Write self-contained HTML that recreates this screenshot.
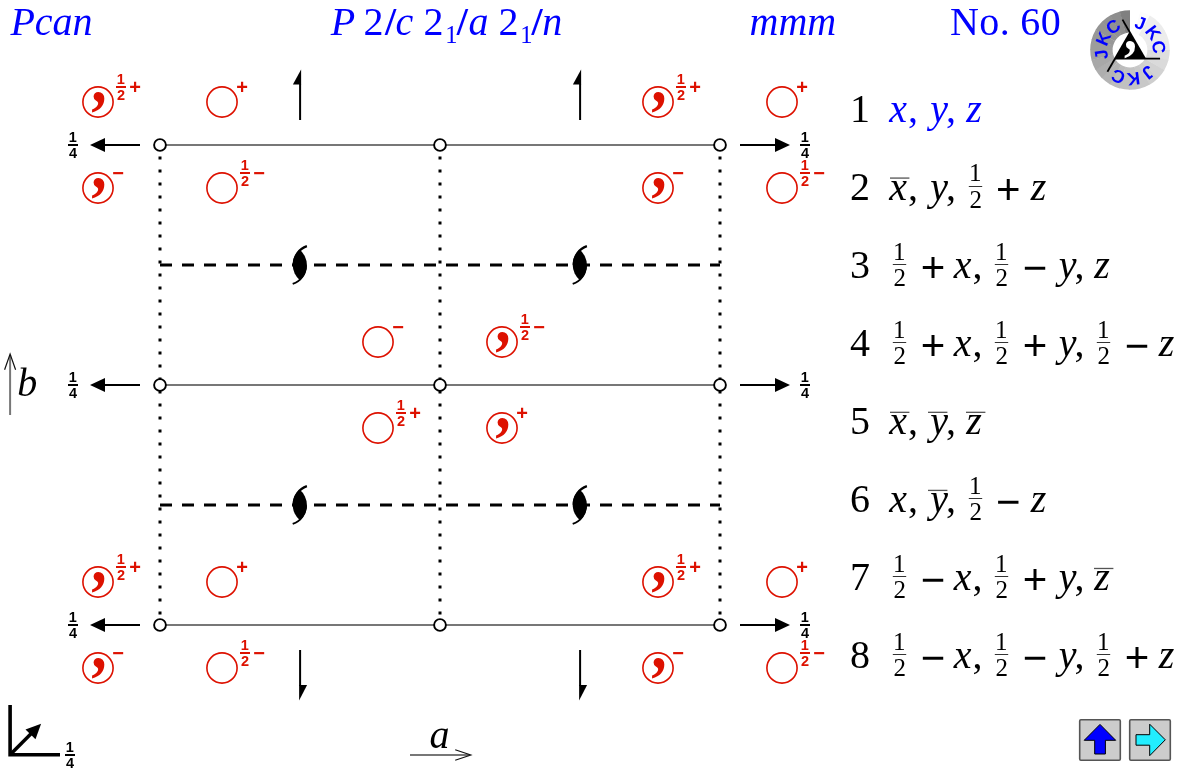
<!DOCTYPE html>
<html lang="en"><head><meta charset="utf-8"><title>Pcan No. 60</title>
<style>
html,body{margin:0;padding:0;background:#fff;}
body{width:1180px;height:770px;overflow:hidden;position:relative;}
svg{position:absolute;left:0;top:0;display:block;will-change:transform;}
text{white-space:pre;}
.si{font-family:"Liberation Serif", serif;font-style:italic;}
.sr{font-family:"Liberation Serif", serif;font-style:normal;}
.sb{font-family:"Liberation Sans", sans-serif;font-weight:bold;}
.sn{font-family:"Liberation Sans", sans-serif;}
</style></head><body>
<svg width="1180" height="770" viewBox="0 0 1180 770">
<g fill="#0000ff" font-size="40">
<text class="si" x="10.41" y="35">Pcan</text>
<text class="si" x="330.81" y="35">P</text>
<text class="sr" x="363.44" y="35">2</text>
<text class="sr" x="384.89" y="35" font-weight="bold">/</text>
<text class="si" x="395.47" y="35">c</text>
<text class="sr" x="423.54" y="35">2</text>
<text class="sr" x="445.25" y="43" font-size="24.5">1</text>
<text class="sr" x="456.69" y="35" font-weight="bold">/</text>
<text class="si" x="468.61" y="35">a</text>
<text class="sr" x="498.54" y="35">2</text>
<text class="sr" x="520.15" y="43" font-size="24.5">1</text>
<text class="sr" x="531.59" y="35" font-weight="bold">/</text>
<text class="si" x="542.27" y="35">n</text>
<text class="si" x="749.55" y="35">mmm</text>
<text class="sr" x="950.05" y="35" letter-spacing="0.35">No. 60</text>
</g>
<line x1="160" y1="145" x2="720" y2="145" stroke="#777" stroke-width="2"/>
<line x1="160" y1="385" x2="720" y2="385" stroke="#777" stroke-width="2"/>
<line x1="160" y1="625" x2="720" y2="625" stroke="#777" stroke-width="2"/>
<line x1="160" y1="156.5" x2="160" y2="616" stroke="#000" stroke-width="3" stroke-dasharray="3 10"/>
<line x1="440" y1="156.5" x2="440" y2="616" stroke="#000" stroke-width="3" stroke-dasharray="3 10"/>
<line x1="720" y1="156.5" x2="720" y2="616" stroke="#000" stroke-width="3" stroke-dasharray="3 10"/>
<line x1="160" y1="265" x2="720" y2="265" stroke="#000" stroke-width="3" stroke-dasharray="12 10"/>
<line x1="160" y1="505" x2="720" y2="505" stroke="#000" stroke-width="3" stroke-dasharray="12 10"/>
<circle cx="160" cy="145" r="5.9" fill="#fff" stroke="#000" stroke-width="1.9"/>
<circle cx="160" cy="385" r="5.9" fill="#fff" stroke="#000" stroke-width="1.9"/>
<circle cx="160" cy="625" r="5.9" fill="#fff" stroke="#000" stroke-width="1.9"/>
<circle cx="440" cy="145" r="5.9" fill="#fff" stroke="#000" stroke-width="1.9"/>
<circle cx="440" cy="385" r="5.9" fill="#fff" stroke="#000" stroke-width="1.9"/>
<circle cx="440" cy="625" r="5.9" fill="#fff" stroke="#000" stroke-width="1.9"/>
<circle cx="720" cy="145" r="5.9" fill="#fff" stroke="#000" stroke-width="1.9"/>
<circle cx="720" cy="385" r="5.9" fill="#fff" stroke="#000" stroke-width="1.9"/>
<circle cx="720" cy="625" r="5.9" fill="#fff" stroke="#000" stroke-width="1.9"/>
<line x1="140" y1="145" x2="103" y2="145" stroke="#000" stroke-width="2"/>
<polygon points="90,145 105,138 105,152" fill="#000"/>
<g fill="#000" font-size="14.5" text-anchor="middle" class="sb">
<text x="72.7" y="142">1</text>
<text x="73.1" y="157.9">4</text>
<rect x="68" y="144" width="10" height="2"/>
</g>
<line x1="740" y1="145" x2="777" y2="145" stroke="#000" stroke-width="2"/>
<polygon points="790,145 775,138 775,152" fill="#000"/>
<g fill="#000" font-size="14.5" text-anchor="middle" class="sb">
<text x="804.7" y="142">1</text>
<text x="805.1" y="157.9">4</text>
<rect x="800" y="144" width="10" height="2"/>
</g>
<line x1="140" y1="385" x2="103" y2="385" stroke="#000" stroke-width="2"/>
<polygon points="90,385 105,378 105,392" fill="#000"/>
<g fill="#000" font-size="14.5" text-anchor="middle" class="sb">
<text x="72.7" y="382">1</text>
<text x="73.1" y="397.9">4</text>
<rect x="68" y="384" width="10" height="2"/>
</g>
<line x1="740" y1="385" x2="777" y2="385" stroke="#000" stroke-width="2"/>
<polygon points="790,385 775,378 775,392" fill="#000"/>
<g fill="#000" font-size="14.5" text-anchor="middle" class="sb">
<text x="804.7" y="382">1</text>
<text x="805.1" y="397.9">4</text>
<rect x="800" y="384" width="10" height="2"/>
</g>
<line x1="140" y1="625" x2="103" y2="625" stroke="#000" stroke-width="2"/>
<polygon points="90,625 105,618 105,632" fill="#000"/>
<g fill="#000" font-size="14.5" text-anchor="middle" class="sb">
<text x="72.7" y="622">1</text>
<text x="73.1" y="637.9">4</text>
<rect x="68" y="624" width="10" height="2"/>
</g>
<line x1="740" y1="625" x2="777" y2="625" stroke="#000" stroke-width="2"/>
<polygon points="790,625 775,618 775,632" fill="#000"/>
<g fill="#000" font-size="14.5" text-anchor="middle" class="sb">
<text x="804.7" y="622">1</text>
<text x="805.1" y="637.9">4</text>
<rect x="800" y="624" width="10" height="2"/>
</g>
<rect x="299.1" y="84" width="2" height="36" fill="#000"/>
<polygon points="301.1,69.6 292.9,84.5 301.1,84.5" fill="#000"/>
<rect x="299.1" y="650" width="2" height="36" fill="#000"/>
<polygon points="299.1,700.4 307.1,685 299.1,685" fill="#000"/>
<rect x="579.1" y="84" width="2" height="36" fill="#000"/>
<polygon points="581.1,69.6 572.9,84.5 581.1,84.5" fill="#000"/>
<rect x="579.1" y="650" width="2" height="36" fill="#000"/>
<polygon points="579.1,700.4 587.1,685 579.1,685" fill="#000"/>
<g transform="translate(299.8,265)">
<path d="M-0.23,-15.42 A20.3,20.3 0 0 0 0.23,15.42 A20.3,20.3 0 0 0 -0.23,-15.42 Z" fill="#000"/>
<path d="M7.1,-18.9 A19.3,19.3 0 0 0 -6.1,-0.2" fill="none" stroke="#000" stroke-width="2.2"/>
<path d="M-7.1,18.9 A19.3,19.3 0 0 0 6.1,0.2" fill="none" stroke="#000" stroke-width="2"/>
</g>
<g transform="translate(299.8,505)">
<path d="M-0.23,-15.42 A20.3,20.3 0 0 0 0.23,15.42 A20.3,20.3 0 0 0 -0.23,-15.42 Z" fill="#000"/>
<path d="M7.1,-18.9 A19.3,19.3 0 0 0 -6.1,-0.2" fill="none" stroke="#000" stroke-width="2.2"/>
<path d="M-7.1,18.9 A19.3,19.3 0 0 0 6.1,0.2" fill="none" stroke="#000" stroke-width="2"/>
</g>
<g transform="translate(579.8,265)">
<path d="M-0.23,-15.42 A20.3,20.3 0 0 0 0.23,15.42 A20.3,20.3 0 0 0 -0.23,-15.42 Z" fill="#000"/>
<path d="M7.1,-18.9 A19.3,19.3 0 0 0 -6.1,-0.2" fill="none" stroke="#000" stroke-width="2.2"/>
<path d="M-7.1,18.9 A19.3,19.3 0 0 0 6.1,0.2" fill="none" stroke="#000" stroke-width="2"/>
</g>
<g transform="translate(579.8,505)">
<path d="M-0.23,-15.42 A20.3,20.3 0 0 0 0.23,15.42 A20.3,20.3 0 0 0 -0.23,-15.42 Z" fill="#000"/>
<path d="M7.1,-18.9 A19.3,19.3 0 0 0 -6.1,-0.2" fill="none" stroke="#000" stroke-width="2.2"/>
<path d="M-7.1,18.9 A19.3,19.3 0 0 0 6.1,0.2" fill="none" stroke="#000" stroke-width="2"/>
</g>
<circle cx="98" cy="102" r="15.1" fill="none" stroke="#dd1100" stroke-width="1.6"/>
<text class="sr" font-weight="bold" transform="translate(91.19,101.75) scale(0.92,1)" font-size="67" fill="#dd1100">,</text>
<g fill="#dd1100" font-size="14.5" text-anchor="middle" class="sb">
<text x="120.7" y="84">1</text>
<text x="121.1" y="99.9">2</text>
<rect x="116" y="86" width="10" height="2"/>
</g>
<text class="sb" x="135" y="93.65" font-size="20" fill="#dd1100" text-anchor="middle">+</text>
<circle cx="222" cy="102" r="15.1" fill="none" stroke="#dd1100" stroke-width="1.6"/>
<text class="sb" x="242.2" y="93.65" font-size="20" fill="#dd1100" text-anchor="middle">+</text>
<circle cx="98" cy="188" r="15.1" fill="none" stroke="#dd1100" stroke-width="1.6"/>
<text class="sr" font-weight="bold" transform="translate(91.19,187.75) scale(0.92,1)" font-size="67" fill="#dd1100">,</text>
<text class="sb" x="118.2" y="179.65" font-size="20" fill="#dd1100" text-anchor="middle">−</text>
<circle cx="222" cy="188" r="15.1" fill="none" stroke="#dd1100" stroke-width="1.6"/>
<g fill="#dd1100" font-size="14.5" text-anchor="middle" class="sb">
<text x="244.7" y="170">1</text>
<text x="245.1" y="185.9">2</text>
<rect x="240" y="172" width="10" height="2"/>
</g>
<text class="sb" x="259" y="179.65" font-size="20" fill="#dd1100" text-anchor="middle">−</text>
<circle cx="658" cy="102" r="15.1" fill="none" stroke="#dd1100" stroke-width="1.6"/>
<text class="sr" font-weight="bold" transform="translate(651.19,101.75) scale(0.92,1)" font-size="67" fill="#dd1100">,</text>
<g fill="#dd1100" font-size="14.5" text-anchor="middle" class="sb">
<text x="680.7" y="84">1</text>
<text x="681.1" y="99.9">2</text>
<rect x="676" y="86" width="10" height="2"/>
</g>
<text class="sb" x="695" y="93.65" font-size="20" fill="#dd1100" text-anchor="middle">+</text>
<circle cx="782" cy="102" r="15.1" fill="none" stroke="#dd1100" stroke-width="1.6"/>
<text class="sb" x="802.2" y="93.65" font-size="20" fill="#dd1100" text-anchor="middle">+</text>
<circle cx="658" cy="188" r="15.1" fill="none" stroke="#dd1100" stroke-width="1.6"/>
<text class="sr" font-weight="bold" transform="translate(651.19,187.75) scale(0.92,1)" font-size="67" fill="#dd1100">,</text>
<text class="sb" x="678.2" y="179.65" font-size="20" fill="#dd1100" text-anchor="middle">−</text>
<circle cx="782" cy="188" r="15.1" fill="none" stroke="#dd1100" stroke-width="1.6"/>
<g fill="#dd1100" font-size="14.5" text-anchor="middle" class="sb">
<text x="804.7" y="170">1</text>
<text x="805.1" y="185.9">2</text>
<rect x="800" y="172" width="10" height="2"/>
</g>
<text class="sb" x="819" y="179.65" font-size="20" fill="#dd1100" text-anchor="middle">−</text>
<circle cx="98" cy="582" r="15.1" fill="none" stroke="#dd1100" stroke-width="1.6"/>
<text class="sr" font-weight="bold" transform="translate(91.19,581.75) scale(0.92,1)" font-size="67" fill="#dd1100">,</text>
<g fill="#dd1100" font-size="14.5" text-anchor="middle" class="sb">
<text x="120.7" y="564">1</text>
<text x="121.1" y="579.9">2</text>
<rect x="116" y="566" width="10" height="2"/>
</g>
<text class="sb" x="135" y="573.65" font-size="20" fill="#dd1100" text-anchor="middle">+</text>
<circle cx="222" cy="582" r="15.1" fill="none" stroke="#dd1100" stroke-width="1.6"/>
<text class="sb" x="242.2" y="573.65" font-size="20" fill="#dd1100" text-anchor="middle">+</text>
<circle cx="98" cy="668" r="15.1" fill="none" stroke="#dd1100" stroke-width="1.6"/>
<text class="sr" font-weight="bold" transform="translate(91.19,667.75) scale(0.92,1)" font-size="67" fill="#dd1100">,</text>
<text class="sb" x="118.2" y="659.65" font-size="20" fill="#dd1100" text-anchor="middle">−</text>
<circle cx="222" cy="668" r="15.1" fill="none" stroke="#dd1100" stroke-width="1.6"/>
<g fill="#dd1100" font-size="14.5" text-anchor="middle" class="sb">
<text x="244.7" y="650">1</text>
<text x="245.1" y="665.9">2</text>
<rect x="240" y="652" width="10" height="2"/>
</g>
<text class="sb" x="259" y="659.65" font-size="20" fill="#dd1100" text-anchor="middle">−</text>
<circle cx="658" cy="582" r="15.1" fill="none" stroke="#dd1100" stroke-width="1.6"/>
<text class="sr" font-weight="bold" transform="translate(651.19,581.75) scale(0.92,1)" font-size="67" fill="#dd1100">,</text>
<g fill="#dd1100" font-size="14.5" text-anchor="middle" class="sb">
<text x="680.7" y="564">1</text>
<text x="681.1" y="579.9">2</text>
<rect x="676" y="566" width="10" height="2"/>
</g>
<text class="sb" x="695" y="573.65" font-size="20" fill="#dd1100" text-anchor="middle">+</text>
<circle cx="782" cy="582" r="15.1" fill="none" stroke="#dd1100" stroke-width="1.6"/>
<text class="sb" x="802.2" y="573.65" font-size="20" fill="#dd1100" text-anchor="middle">+</text>
<circle cx="658" cy="668" r="15.1" fill="none" stroke="#dd1100" stroke-width="1.6"/>
<text class="sr" font-weight="bold" transform="translate(651.19,667.75) scale(0.92,1)" font-size="67" fill="#dd1100">,</text>
<text class="sb" x="678.2" y="659.65" font-size="20" fill="#dd1100" text-anchor="middle">−</text>
<circle cx="782" cy="668" r="15.1" fill="none" stroke="#dd1100" stroke-width="1.6"/>
<g fill="#dd1100" font-size="14.5" text-anchor="middle" class="sb">
<text x="804.7" y="650">1</text>
<text x="805.1" y="665.9">2</text>
<rect x="800" y="652" width="10" height="2"/>
</g>
<text class="sb" x="819" y="659.65" font-size="20" fill="#dd1100" text-anchor="middle">−</text>
<circle cx="378" cy="342" r="15.1" fill="none" stroke="#dd1100" stroke-width="1.6"/>
<text class="sb" x="398.2" y="333.65" font-size="20" fill="#dd1100" text-anchor="middle">−</text>
<circle cx="502" cy="342" r="15.1" fill="none" stroke="#dd1100" stroke-width="1.6"/>
<text class="sr" font-weight="bold" transform="translate(495.19,341.75) scale(0.92,1)" font-size="67" fill="#dd1100">,</text>
<g fill="#dd1100" font-size="14.5" text-anchor="middle" class="sb">
<text x="524.7" y="324">1</text>
<text x="525.1" y="339.9">2</text>
<rect x="520" y="326" width="10" height="2"/>
</g>
<text class="sb" x="539" y="333.65" font-size="20" fill="#dd1100" text-anchor="middle">−</text>
<circle cx="378" cy="428" r="15.1" fill="none" stroke="#dd1100" stroke-width="1.6"/>
<g fill="#dd1100" font-size="14.5" text-anchor="middle" class="sb">
<text x="400.7" y="410">1</text>
<text x="401.1" y="425.9">2</text>
<rect x="396" y="412" width="10" height="2"/>
</g>
<text class="sb" x="415" y="419.65" font-size="20" fill="#dd1100" text-anchor="middle">+</text>
<circle cx="502" cy="428" r="15.1" fill="none" stroke="#dd1100" stroke-width="1.6"/>
<text class="sr" font-weight="bold" transform="translate(495.19,427.75) scale(0.92,1)" font-size="67" fill="#dd1100">,</text>
<text class="sb" x="522.2" y="419.65" font-size="20" fill="#dd1100" text-anchor="middle">+</text>
<line x1="10.1" y1="415" x2="10.1" y2="355" stroke="#777" stroke-width="2"/>
<polyline points="4.6,369.8 10.1,354 15.6,369.8" fill="none" stroke="#111" stroke-width="1.2"/>
<text class="si" x="17.32" y="395.5" font-size="40">b</text>
<line x1="410" y1="755" x2="470" y2="755" stroke="#777" stroke-width="2"/>
<polyline points="455.2,749.7 470.8,755 455.2,760.3" fill="none" stroke="#111" stroke-width="1.2"/>
<text class="si" x="429.61" y="748.2" font-size="40">a</text>
<polyline points="10.1,705 10.1,754.7 60,754.7" fill="none" stroke="#000" stroke-width="3.6"/>
<line x1="10.1" y1="754.7" x2="33" y2="731.8" stroke="#000" stroke-width="3.5"/>
<polygon points="41.1,723.7 25.5,729.4 35.5,739.3" fill="#000"/>
<g fill="#000" font-size="14.5" text-anchor="middle" class="sb">
<text x="69.7" y="752">1</text>
<text x="70.1" y="767.9">4</text>
<rect x="65" y="754" width="10" height="2"/>
</g>
<text class="sr" x="850" y="121.9" font-size="40">1</text>
<text class="si" x="889.29" y="121.9" font-size="40" fill="#0000ff">x</text>
<text class="sr" x="908.08" y="121.9" font-size="40" fill="#0000ff">,</text>
<text class="si" x="930.34" y="121.9" font-size="40" fill="#0000ff">y</text>
<text class="sr" x="946.08" y="121.9" font-size="40" fill="#0000ff">,</text>
<text class="si" x="966.35" y="121.9" font-size="40" fill="#0000ff">z</text>
<text class="sr" x="850" y="199.98" font-size="40">2</text>
<text class="si" x="889.29" y="199.98" font-size="40" fill="#000">x</text>
<rect x="890" y="177.43" width="19.4" height="1.3" fill="#555"/>
<text class="sr" x="908.08" y="199.98" font-size="40" fill="#000">,</text>
<text class="si" x="930.34" y="199.98" font-size="40" fill="#000">y</text>
<text class="sr" x="946.08" y="199.98" font-size="40" fill="#000">,</text>
<g class="sr" font-size="25">
<text x="969.10" y="181.48">1</text>
<text x="969.39" y="207.88">2</text>
<rect x="968.8" y="186" width="13.4" height="1" fill="#333"/>
</g>
<text class="sn" x="996.05" y="203.88" font-size="42">+</text>
<text class="si" x="1030.75" y="199.98" font-size="40" fill="#000">z</text>
<text class="sr" x="850" y="278.06" font-size="40">3</text>
<g class="sr" font-size="25">
<text x="893.10" y="259.56">1</text>
<text x="893.39" y="285.96">2</text>
<rect x="892.8" y="264" width="13.4" height="1" fill="#333"/>
</g>
<text class="sn" x="920.75" y="281.96" font-size="42">+</text>
<text class="si" x="953.69" y="278.06" font-size="40" fill="#000">x</text>
<text class="sr" x="972.48" y="278.06" font-size="40" fill="#000">,</text>
<g class="sr" font-size="25">
<text x="995.10" y="259.56">1</text>
<text x="995.39" y="285.96">2</text>
<rect x="994.8" y="264" width="13.4" height="1" fill="#333"/>
</g>
<text class="sn" x="1022.73" y="281.96" font-size="42">−</text>
<text class="si" x="1058.74" y="278.06" font-size="40" fill="#000">y</text>
<text class="sr" x="1074.48" y="278.06" font-size="40" fill="#000">,</text>
<text class="si" x="1094.35" y="278.06" font-size="40" fill="#000">z</text>
<text class="sr" x="850" y="356.14" font-size="40">4</text>
<g class="sr" font-size="25">
<text x="893.10" y="337.64">1</text>
<text x="893.39" y="364.04">2</text>
<rect x="892.8" y="342" width="13.4" height="1" fill="#333"/>
</g>
<text class="sn" x="920.75" y="360.04" font-size="42">+</text>
<text class="si" x="953.69" y="356.14" font-size="40" fill="#000">x</text>
<text class="sr" x="972.48" y="356.14" font-size="40" fill="#000">,</text>
<g class="sr" font-size="25">
<text x="995.10" y="337.64">1</text>
<text x="995.39" y="364.04">2</text>
<rect x="994.8" y="342" width="13.4" height="1" fill="#333"/>
</g>
<text class="sn" x="1022.75" y="360.04" font-size="42">+</text>
<text class="si" x="1058.74" y="356.14" font-size="40" fill="#000">y</text>
<text class="sr" x="1074.48" y="356.14" font-size="40" fill="#000">,</text>
<g class="sr" font-size="25">
<text x="1097.10" y="337.64">1</text>
<text x="1097.39" y="364.04">2</text>
<rect x="1096.8" y="342" width="13.4" height="1" fill="#333"/>
</g>
<text class="sn" x="1124.73" y="360.04" font-size="42">−</text>
<text class="si" x="1158.75" y="356.14" font-size="40" fill="#000">z</text>
<text class="sr" x="850" y="434.22" font-size="40">5</text>
<text class="si" x="889.29" y="434.22" font-size="40" fill="#000">x</text>
<rect x="890" y="411.67" width="19.4" height="1.3" fill="#555"/>
<text class="sr" x="908.08" y="434.22" font-size="40" fill="#000">,</text>
<text class="si" x="930.34" y="434.22" font-size="40" fill="#000">y</text>
<rect x="928" y="411.67" width="19.4" height="1.3" fill="#555"/>
<text class="sr" x="946.08" y="434.22" font-size="40" fill="#000">,</text>
<text class="si" x="966.35" y="434.22" font-size="40" fill="#000">z</text>
<rect x="966" y="411.67" width="19.4" height="1.3" fill="#555"/>
<text class="sr" x="850" y="512.3" font-size="40">6</text>
<text class="si" x="889.29" y="512.3" font-size="40" fill="#000">x</text>
<text class="sr" x="908.08" y="512.3" font-size="40" fill="#000">,</text>
<text class="si" x="930.34" y="512.3" font-size="40" fill="#000">y</text>
<rect x="928" y="489.75" width="19.4" height="1.3" fill="#555"/>
<text class="sr" x="946.08" y="512.3" font-size="40" fill="#000">,</text>
<g class="sr" font-size="25">
<text x="969.10" y="493.8">1</text>
<text x="969.39" y="520.2">2</text>
<rect x="968.8" y="498" width="13.4" height="1" fill="#333"/>
</g>
<text class="sn" x="996.03" y="516.2" font-size="42">−</text>
<text class="si" x="1030.75" y="512.3" font-size="40" fill="#000">z</text>
<text class="sr" x="850" y="590.38" font-size="40">7</text>
<g class="sr" font-size="25">
<text x="893.10" y="571.88">1</text>
<text x="893.39" y="598.28">2</text>
<rect x="892.8" y="576" width="13.4" height="1" fill="#333"/>
</g>
<text class="sn" x="920.73" y="594.28" font-size="42">−</text>
<text class="si" x="953.69" y="590.38" font-size="40" fill="#000">x</text>
<text class="sr" x="972.48" y="590.38" font-size="40" fill="#000">,</text>
<g class="sr" font-size="25">
<text x="995.10" y="571.88">1</text>
<text x="995.39" y="598.28">2</text>
<rect x="994.8" y="576" width="13.4" height="1" fill="#333"/>
</g>
<text class="sn" x="1022.75" y="594.28" font-size="42">+</text>
<text class="si" x="1058.74" y="590.38" font-size="40" fill="#000">y</text>
<text class="sr" x="1074.48" y="590.38" font-size="40" fill="#000">,</text>
<text class="si" x="1094.35" y="590.38" font-size="40" fill="#000">z</text>
<rect x="1094" y="567.83" width="19.4" height="1.3" fill="#555"/>
<text class="sr" x="850" y="668.46" font-size="40">8</text>
<g class="sr" font-size="25">
<text x="893.10" y="649.96">1</text>
<text x="893.39" y="676.36">2</text>
<rect x="892.8" y="654" width="13.4" height="1" fill="#333"/>
</g>
<text class="sn" x="920.73" y="672.36" font-size="42">−</text>
<text class="si" x="953.69" y="668.46" font-size="40" fill="#000">x</text>
<text class="sr" x="972.48" y="668.46" font-size="40" fill="#000">,</text>
<g class="sr" font-size="25">
<text x="995.10" y="649.96">1</text>
<text x="995.39" y="676.36">2</text>
<rect x="994.8" y="654" width="13.4" height="1" fill="#333"/>
</g>
<text class="sn" x="1022.73" y="672.36" font-size="42">−</text>
<text class="si" x="1058.74" y="668.46" font-size="40" fill="#000">y</text>
<text class="sr" x="1074.48" y="668.46" font-size="40" fill="#000">,</text>
<g class="sr" font-size="25">
<text x="1097.10" y="649.96">1</text>
<text x="1097.39" y="676.36">2</text>
<rect x="1096.8" y="654" width="13.4" height="1" fill="#333"/>
</g>
<text class="sn" x="1124.75" y="672.36" font-size="42">+</text>
<text class="si" x="1158.75" y="668.46" font-size="40" fill="#000">z</text>
<rect x="1079.7" y="719.7" width="40.6" height="40.6" rx="1.2" fill="#ccc" stroke="#555" stroke-width="1.6"/>
<polygon points="1100,724.4 1115.7,740.3 1105.4,740.3 1105.4,754 1094.7,754 1094.7,740.3 1084.2,740.3" fill="#0000ff" stroke="#000" stroke-width="1"/>
<rect x="1129.7" y="719.7" width="40.6" height="40.6" rx="1.2" fill="#ccc" stroke="#555" stroke-width="1.6"/>
<polygon points="1165.3,739.8 1149.7,724.2 1149.7,734.7 1136,734.7 1136,745.2 1149.7,745.2 1149.7,755.7" fill="#22eeff" stroke="#000" stroke-width="1"/>
<g transform="translate(1130,50)">
<path d="M0.00,-39.80 A39.8,39.8 0 0 1 10.70,-38.33 L4.68,-16.76 A17.4,17.4 0 0 0 0.00,-17.40 Z" fill="rgb(255,255,255)"/>
<path d="M10.30,-38.44 A39.8,39.8 0 0 1 20.26,-34.26 L8.86,-14.98 A17.4,17.4 0 0 0 4.50,-16.81 Z" fill="rgb(252,252,252)"/>
<path d="M19.90,-34.47 A39.8,39.8 0 0 1 28.44,-27.85 L12.43,-12.17 A17.4,17.4 0 0 0 8.70,-15.07 Z" fill="rgb(238,238,238)"/>
<path d="M28.14,-28.14 A39.8,39.8 0 0 1 34.67,-19.54 L15.16,-8.54 A17.4,17.4 0 0 0 12.30,-12.30 Z" fill="rgb(236,236,236)"/>
<path d="M34.47,-19.90 A39.8,39.8 0 0 1 38.55,-9.90 L16.85,-4.33 A17.4,17.4 0 0 0 15.07,-8.70 Z" fill="rgb(236,236,236)"/>
<path d="M38.44,-10.30 A39.8,39.8 0 0 1 39.80,0.42 L17.40,0.18 A17.4,17.4 0 0 0 16.81,-4.50 Z" fill="rgb(234,234,234)"/>
<path d="M39.80,0.00 A39.8,39.8 0 0 1 38.33,10.70 L16.76,4.68 A17.4,17.4 0 0 0 17.40,0.00 Z" fill="rgb(222,222,222)"/>
<path d="M38.44,10.30 A39.8,39.8 0 0 1 34.26,20.26 L14.98,8.86 A17.4,17.4 0 0 0 16.81,4.50 Z" fill="rgb(218,218,218)"/>
<path d="M34.47,19.90 A39.8,39.8 0 0 1 27.85,28.44 L12.17,12.43 A17.4,17.4 0 0 0 15.07,8.70 Z" fill="rgb(210,210,210)"/>
<path d="M28.14,28.14 A39.8,39.8 0 0 1 19.54,34.67 L8.54,15.16 A17.4,17.4 0 0 0 12.30,12.30 Z" fill="rgb(206,206,206)"/>
<path d="M19.90,34.47 A39.8,39.8 0 0 1 9.90,38.55 L4.33,16.85 A17.4,17.4 0 0 0 8.70,15.07 Z" fill="rgb(200,200,200)"/>
<path d="M10.30,38.44 A39.8,39.8 0 0 1 -0.42,39.80 L-0.18,17.40 A17.4,17.4 0 0 0 4.50,16.81 Z" fill="rgb(196,196,196)"/>
<path d="M0.00,39.80 A39.8,39.8 0 0 1 -10.70,38.33 L-4.68,16.76 A17.4,17.4 0 0 0 0.00,17.40 Z" fill="rgb(192,192,192)"/>
<path d="M-10.30,38.44 A39.8,39.8 0 0 1 -20.26,34.26 L-8.86,14.98 A17.4,17.4 0 0 0 -4.50,16.81 Z" fill="rgb(188,188,188)"/>
<path d="M-19.90,34.47 A39.8,39.8 0 0 1 -28.44,27.85 L-12.43,12.17 A17.4,17.4 0 0 0 -8.70,15.07 Z" fill="rgb(180,180,180)"/>
<path d="M-28.14,28.14 A39.8,39.8 0 0 1 -34.67,19.54 L-15.16,8.54 A17.4,17.4 0 0 0 -12.30,12.30 Z" fill="rgb(174,174,174)"/>
<path d="M-34.47,19.90 A39.8,39.8 0 0 1 -38.55,9.90 L-16.85,4.33 A17.4,17.4 0 0 0 -15.07,8.70 Z" fill="rgb(168,168,168)"/>
<path d="M-38.44,10.30 A39.8,39.8 0 0 1 -39.80,-0.42 L-17.40,-0.18 A17.4,17.4 0 0 0 -16.81,4.50 Z" fill="rgb(162,162,162)"/>
<path d="M-39.80,0.00 A39.8,39.8 0 0 1 -38.33,-10.70 L-16.76,-4.68 A17.4,17.4 0 0 0 -17.40,0.00 Z" fill="rgb(156,156,156)"/>
<path d="M-38.44,-10.30 A39.8,39.8 0 0 1 -34.26,-20.26 L-14.98,-8.86 A17.4,17.4 0 0 0 -16.81,-4.50 Z" fill="rgb(152,152,152)"/>
<path d="M-34.47,-19.90 A39.8,39.8 0 0 1 -27.85,-28.44 L-12.17,-12.43 A17.4,17.4 0 0 0 -15.07,-8.70 Z" fill="rgb(148,148,148)"/>
<path d="M-28.14,-28.14 A39.8,39.8 0 0 1 -19.54,-34.67 L-8.54,-15.16 A17.4,17.4 0 0 0 -12.30,-12.30 Z" fill="rgb(146,146,146)"/>
<path d="M-19.90,-34.47 A39.8,39.8 0 0 1 -9.90,-38.55 L-4.33,-16.85 A17.4,17.4 0 0 0 -8.70,-15.07 Z" fill="rgb(142,142,142)"/>
<path d="M-10.30,-38.44 A39.8,39.8 0 0 1 -0.00,-39.80 L-0.00,-17.40 A17.4,17.4 0 0 0 -4.50,-16.81 Z" fill="rgb(128,128,128)"/>
<polygon points="0.00,-17.40 15.07,8.70 -15.07,8.70" fill="#000"/>
<line x1="15.07" y1="8.70" x2="-7.50" y2="-30.39" stroke="#000" stroke-width="1.8"/>
<line x1="-15.07" y1="8.70" x2="30.07" y2="8.70" stroke="#000" stroke-width="1.8"/>
<line x1="0.00" y1="-17.40" x2="-22.57" y2="21.69" stroke="#000" stroke-width="1.8"/>
<text class="sr" font-weight="bold" transform="translate(-5.9,-0.8) scale(0.92,1)" font-size="56.4" fill="#fff">,</text>
<text class="sb" transform="rotate(21) translate(0,-22.7)" font-size="18" fill="#0000ff" text-anchor="middle">J</text>
<text class="sb" transform="rotate(53) translate(0,-22.7)" font-size="18" fill="#0000ff" text-anchor="middle">K</text>
<text class="sb" transform="rotate(84) translate(0,-22.7)" font-size="18" fill="#0000ff" text-anchor="middle">C</text>
<text class="sb" transform="rotate(141) translate(0,-22.7)" font-size="18" fill="#0000ff" text-anchor="middle">J</text>
<text class="sb" transform="rotate(173) translate(0,-22.7)" font-size="18" fill="#0000ff" text-anchor="middle">K</text>
<text class="sb" transform="rotate(204) translate(0,-22.7)" font-size="18" fill="#0000ff" text-anchor="middle">C</text>
<text class="sb" transform="rotate(261) translate(0,-22.7)" font-size="18" fill="#0000ff" text-anchor="middle">J</text>
<text class="sb" transform="rotate(293) translate(0,-22.7)" font-size="18" fill="#0000ff" text-anchor="middle">K</text>
<text class="sb" transform="rotate(324) translate(0,-22.7)" font-size="18" fill="#0000ff" text-anchor="middle">C</text>
</g>
</svg>
</body></html>
